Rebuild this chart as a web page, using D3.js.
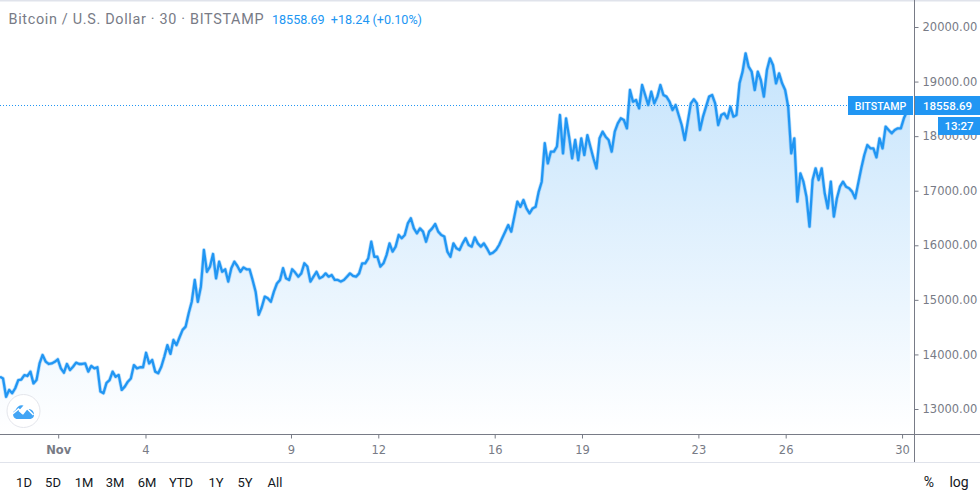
<!DOCTYPE html>
<html><head><meta charset="utf-8">
<script src="https://cdn.jsdelivr.net/npm/d3@7"></script>
<style>
html,body{margin:0;padding:0;background:#fff;overflow:hidden}
svg{display:block}
text{font-family:Roboto,"Open Sans",sans-serif}
.axis path,.axis line{stroke:#787b86}
.axis text{fill:#787b86;font-family:"DejaVu Sans",Roboto,sans-serif;font-size:11.5px}
</style></head><body>
<svg id="c" width="980" height="497"></svg>
<script>
const title = "Bitcoin / U.S. Dollar · 30 · BITSTAMP";
const quote = "18558.69  +18.24 (+0.10%)";
const exchange = "BITSTAMP";
const lastPrice = 18558.69;
const countdown = "13:27";
const priceTicks = [13000,14000,15000,16000,17000,18000,19000,20000];
const dayTicks = [[10,1,"Nov"],[10,4,"4"],[10,9,"9"],[10,12,"12"],[10,16,"16"],[10,19,"19"],[10,23,"23"],[10,26,"26"],[10,30,"30"]];
const ranges = ["1D","5D","1M","3M","6M","YTD","1Y","5Y","All"];
const stepHours = 2.51;
const closes = [
13590,13560,13225,13350,13290,13380,13530,13540,13620,13605,13685,13470,13530,13835,13990,13870,13825,13835,13865,13910,
13745,13665,13825,13715,13775,13850,13825,13825,13835,13685,13790,13745,13765,13320,13290,13480,13530,13685,13590,13625,
13350,13410,13500,13560,13805,13745,13765,13765,14030,13835,13900,13685,13655,13775,13960,14170,14010,14265,14170,14315,
14450,14510,14755,14965,15365,14965,15240,15915,15515,15610,15840,15395,15700,15515,15560,15335,15580,15700,15620,15515,
15595,15560,15560,15365,15150,14725,14865,15060,15030,14965,15150,15300,15365,15580,15395,15365,15560,15500,15425,15485,
15670,15610,15335,15425,15515,15395,15425,15485,15425,15455,15365,15365,15335,15365,15425,15485,15440,15425,15485,15670,
15670,15760,16065,15790,15790,15610,15670,15820,16035,15885,15975,16190,16130,16190,16400,16495,16310,16220,16310,16250,
16065,16250,16310,16390,16250,16190,16160,15885,15790,16035,15945,15915,16035,16130,16005,15975,16145,16035,15975,16035,
15945,15840,15865,15915,16005,16130,16250,16370,16250,16525,16800,16705,16830,16675,16585,16675,16705,16980,17165,17870,
17500,17715,17715,17810,18387,17685,18325,17990,17595,17930,17560,17960,17655,18020,17805,17595,17410,17960,18082,17990,
17930,17715,18082,18235,18327,18296,18143,18846,18632,18662,18510,18937,18754,18571,18815,18601,18724,18937,18754,18724,
18632,18479,18571,18388,18204,17930,18265,18601,18675,18601,18113,18357,18540,18724,18754,18601,18204,18388,18418,18327,
18540,18357,18388,18968,19182,19518,19273,19182,18846,19182,19029,18724,19212,19426,19304,18968,19151,18968,18846,18540,
17685,17960,16800,17319,17166,16891,16342,17197,17410,17197,17410,16952,16677,17166,16525,16861,17074,17166,17074,17044,
16983,16861,17135,17410,17655,17838,17777,17777,17612,17960,17777,18174,18113,18052,18113,18143,18143,18327,18450,18558.69];

const W=980, plotR=914, plotB=434, axisB=462, blue="#2196f3";
const svg=d3.select("#c");
const startT=Date.UTC(2020,9,30,0,0), endT=Date.UTC(2020,10,30,9,50);
const x=d3.scaleUtc().domain([startT,endT]).range([0,plotR]);
const y=d3.scaleLinear().domain([20000,13000]).range([27,409]);
const pts=closes.map((v,i)=>({t:new Date(startT+i*stepHours*36e5),v}));

const defs=svg.append("defs");
const g=defs.append("linearGradient").attr("id","fill").attr("x1",0).attr("x2",0).attr("y1",0).attr("y2",1);
g.append("stop").attr("offset",0).attr("stop-color",blue).attr("stop-opacity",.26);
g.append("stop").attr("offset",1).attr("stop-color",blue).attr("stop-opacity",0);
defs.append("clipPath").attr("id","plot").append("rect").attr("width",plotR).attr("height",plotB);

svg.append("rect").attr("width",W).attr("height",1.5).attr("fill","#e0e3eb");
svg.append("line").attr("x1",0).attr("x2",W).attr("y1",462.5).attr("y2",462.5).attr("stroke","#e0e3eb");

const plot=svg.append("g").attr("clip-path","url(#plot)");
plot.append("path").datum(pts).attr("fill","url(#fill)")
 .attr("d",d3.area().x(d=>x(d.t)).y0(plotB).y1(d=>y(d.v)));
plot.append("line").attr("x1",0).attr("x2",848).attr("y1",Math.floor(y(lastPrice))+.5).attr("y2",Math.floor(y(lastPrice))+.5)
 .attr("stroke",blue).attr("stroke-dasharray","1 2");
const lineGen=d3.line().x(d=>x(d.t)).y(d=>y(d.v));
plot.append("path").datum(pts).attr("fill","none").attr("stroke",blue).attr("stroke-opacity",.3).attr("stroke-width",3.8).attr("stroke-linejoin","round").attr("d",lineGen);
plot.append("path").datum(pts).attr("fill","none").attr("stroke",blue).attr("stroke-width",2.3).attr("stroke-linejoin","round").attr("d",lineGen);

// axes
const ax=svg.append("g").attr("class","axis").attr("transform",`translate(0,${plotB+.5})`)
 .call(d3.axisBottom(x).tickValues(dayTicks.map(d=>new Date(Date.UTC(2020,d[0],d[1])))).tickSize(4).tickPadding(7)
   .tickFormat((d,i)=>dayTicks[i][2]));
ax.select(".domain").attr("d",`M0,0H${W}`);
ax.selectAll(".tick").filter((d,i)=>i==0).select("text").attr("font-weight","bold");
const ay=svg.append("g").attr("class","axis").attr("transform",`translate(${plotR+.5},0)`)
 .call(d3.axisRight(y).tickValues(priceTicks).tickSize(4).tickPadding(4).tickFormat(d3.format(".2f")));
ay.select(".domain").attr("d",`M0,0V${axisB}`);

// logo
const logo=svg.append("g").attr("transform","translate(23.5,411)");
logo.append("circle").attr("r",16.5).attr("fill","#fff").attr("stroke","#e4e6ec");
logo.append("path").attr("fill","#42a5f5").attr("d","M-10.5,3 Q-10.5,0 -8,-1 Q-5,-7 0,-5.5 L-5,0 L-1,3.5 L3,-2 L6,-2 Q10,-1 10.5,3 Q11,7 7,8 L-7,8 Q-10.5,7 -10.5,3Z");
logo.append("path").attr("fill","none").attr("stroke","#fff").attr("stroke-width",1.6).attr("d","M-11,3 L-5,-2 L-0.5,2.5 L3.5,-2.5 L10,4");

// header
svg.append("text").attr("x",8.5).attr("y",24).attr("fill","#787b86").attr("font-size",14.4).attr("textLength",255).attr("lengthAdjust","spacing").text(title);
svg.append("text").attr("x",272).attr("y",24).attr("fill",blue).attr("font-size",12.6).attr("textLength",150).attr("lengthAdjust","spacing").style("white-space","pre").text(quote);

// price flags
const lab=(x0,x1,y0,y1,t,fx,size)=>{
 svg.append("rect").attr("x",x0).attr("y",y0).attr("width",x1-x0).attr("height",y1-y0).attr("fill",blue);
 svg.append("text").attr("x",fx).attr("y",(y0+y1)/2+4).attr("text-anchor","middle").attr("fill","#fff").attr("font-size",size).attr("font-family",'"DejaVu Sans",sans-serif').attr("font-weight",500).text(t);
};
lab(848,913,96,115,exchange,880.5,10.6);
lab(915,980,96,115,d3.format(".2f")(lastPrice),947.5,11.5);
lab(938,980,117,135,countdown,959,11.5);

// range buttons
const rx=[24,53,84,115,147,181,216,245,275];
svg.append("g").selectAll("text").data(ranges).join("text").attr("x",(d,i)=>rx[i]).attr("y",487)
 .attr("text-anchor","middle").attr("fill","#131722").attr("font-size",13).text(d=>d);
svg.append("text").attr("x",929).attr("y",487).attr("text-anchor","middle").attr("fill","#131722").attr("font-size",14).text("%");
svg.append("text").attr("x",959).attr("y",487).attr("text-anchor","middle").attr("fill","#131722").attr("font-size",14).text("log");
</script>
</body></html>
